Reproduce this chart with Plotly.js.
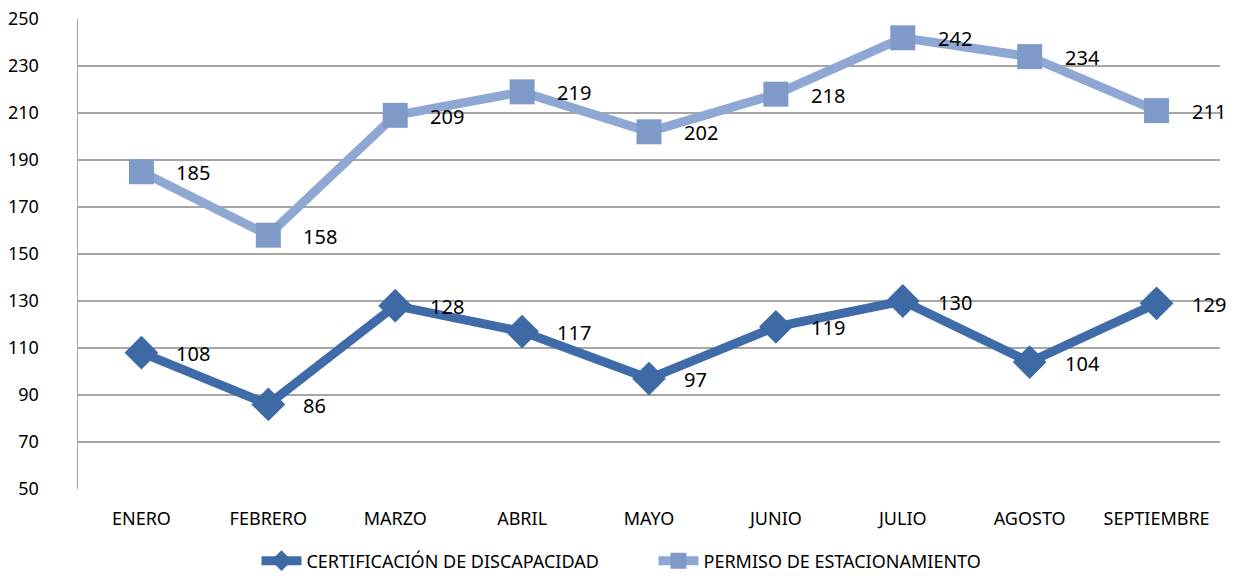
<!DOCTYPE html>
<html><head><meta charset="utf-8">
<script src="https://cdn.plot.ly/plotly-3.0.1.min.js"></script>
<style>body{margin:0;background:#fff}#c{width:1233px;height:576px}</style>
</head><body><div id="c"></div>
<script>
const months = ["ENERO","FEBRERO","MARZO","ABRIL","MAYO","JUNIO","JULIO","AGOSTO","SEPTIEMBRE"];
const certificacion = [108,86,128,117,97,119,130,104,129];
const permiso = [185,158,209,219,202,218,242,234,211];
const seriesNames = ["CERTIFICACIÓN DE DISCAPACIDAD","PERMISO DE ESTACIONAMIENTO"];
const yTicks = [50,70,90,110,130,150,170,190,210,230,250];

const FONT = "Noto Sans, Open Sans, sans-serif";
const traces = [
  {x: months, y: certificacion, name: seriesNames[0], type: "scatter", mode: "lines+markers",
   line: {color: "#3F6CA9", width: 9}, marker: {symbol: "diamond", size: 26, color: "#3D69A5"}, cliponaxis: false},
  {x: months, y: permiso, name: seriesNames[1], type: "scatter", mode: "lines+markers",
   line: {color: "#8EA8D3", width: 9}, marker: {symbol: "square", size: 25, color: "#7F9AC8"}, cliponaxis: false}
];
const annotations = [];
[certificacion, permiso].forEach(arr => arr.forEach((v, i) => {
  annotations.push({x: months[i], y: v, text: String(v), showarrow: false, xanchor: "left", yanchor: "middle",
    xshift: 33, yshift: -1, font: {family: FONT, size: 20, color: "#000"}});
}));
const layout = {
  width: 1233, height: 576,
  margin: {l: 78, r: 13, t: 19, b: 87, autoexpand: false},
  paper_bgcolor: "#fff", plot_bgcolor: "#fff",
  showlegend: true,
  legend: {orientation: "h", xref: "container", yref: "container", x: 0.53, xanchor: "center", y: 0.026, yanchor: "middle",
    font: {family: FONT, size: 18, color: "#000"}, entrywidth: 342, itemwidth: 40},
  xaxis: {type: "category", range: [-0.5, 8.5], showgrid: false, showline: false, zeroline: false,
    ticks: "", ticklabelstandoff: 17, tickfont: {family: FONT, size: 18, color: "#000"}},
  yaxis: {range: [50, 250], tickvals: yTicks, showgrid: true, gridcolor: "#A6A6A6", gridwidth: 1.5,
    showline: true, linecolor: "#A6A6A6", linewidth: 1.5, zeroline: false, ticks: "",
    ticklabelstandoff: 34, tickfont: {family: FONT, size: 18, color: "#000"}},
  annotations: annotations
};
Plotly.newPlot("c", traces, layout, {displayModeBar: false, staticPlot: true});
</script></body></html>
